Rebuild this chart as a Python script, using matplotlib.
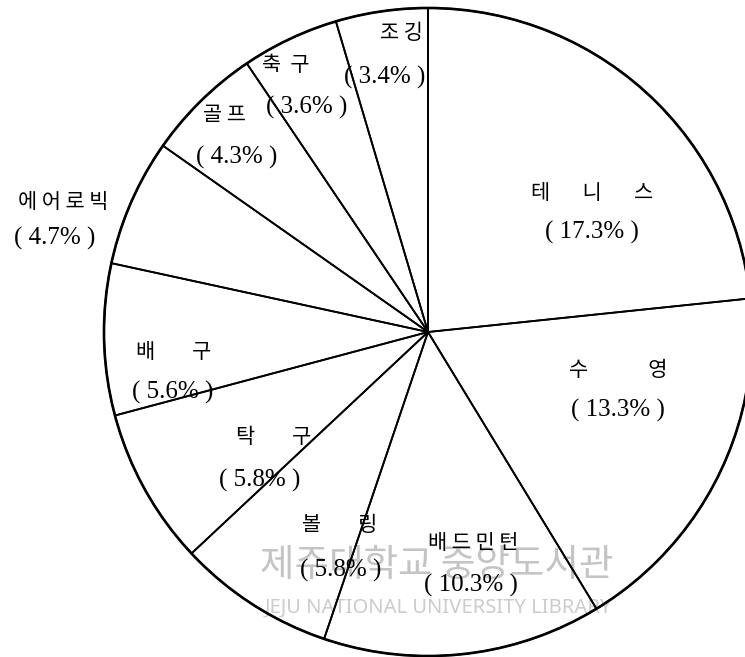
import matplotlib
matplotlib.use("Agg")
import matplotlib.pyplot as plt
from matplotlib.patches import Circle

# 참여 운동 종목별 비율 (%)
sports = ["테니스", "수영", "배드민턴", "볼링", "탁구", "배구", "에어로빅", "골프", "축구", "조깅"]
shares = [17.3, 13.3, 10.3, 5.8, 5.8, 5.6, 4.7, 4.3, 3.6, 3.4]

# spaces put between the letters of each name
letter_gap = [7, 13, 1, 8, 8, 8, 1, 1, 2, 1]
# (name, percent) text centres, in pie units (radius = 1)
name_xy = [(0.506, 0.429), (0.586, -0.117), (0.139, -0.651), (-0.272, -0.596),
           (-0.475, -0.324), (-0.784, -0.062), (-1.127, 0.401), (-0.627, 0.670),
           (-0.438, 0.824), (-0.083, 0.923)]
pct_xy = [(0.506, 0.306), (0.586, -0.241), (0.133, -0.781), (-0.269, -0.735),
          (-0.519, -0.457), (-0.787, -0.188), (-1.151, 0.290), (-0.590, 0.540),
          (-0.373, 0.694), (-0.133, 0.787)]

KR = ["Noto Sans CJK KR", "DejaVu Sans"]
NUM = ["Liberation Serif", "Noto Sans CJK KR"]

fig = plt.figure(figsize=(7.45, 6.57), dpi=100)
ax = fig.add_axes([0, 0, 1, 1])

wedges, _ = ax.pie(shares, startangle=90, counterclock=False, radius=1,
                   wedgeprops=dict(facecolor="none", edgecolor="black", linewidth=1.3))
for w in wedges:
    w.set_zorder(2)
ax.add_patch(Circle((0, 0), 1, fill=False, edgecolor="black", linewidth=1.9, zorder=3))

for name, val, gap, (nx, ny), (px, py) in zip(sports, shares, letter_gap, name_xy, pct_xy):
    spaced = (" " * gap).join(name)
    ax.text(nx, ny, spaced, ha="center", va="center", fontsize=15,
            family=KR, zorder=4)
    ax.text(px, py, "( {}% )".format(val), ha="center", va="center",
            fontsize=18, family=NUM, zorder=4)

# library stamp under the drawing
ax.text(0.028, -0.722, "제주대학교 중앙도서관", ha="center", va="center",
        fontsize=27, color="#c4c4c4", family=KR, zorder=1)
ax.text(0.031, -0.852, "JEJU NATIONAL UNIVERSITY LIBRARY", ha="center", va="center",
        fontsize=14.5, color="#cccccc", family=["Noto Sans", "DejaVu Sans"], zorder=1)

ax.set_xlim(-428 / 324, 317 / 324)
ax.set_ylim(-325 / 324, 332 / 324)
ax.set_aspect("equal")
ax.axis("off")

fig.savefig("out.png", dpi=100, facecolor="white")
